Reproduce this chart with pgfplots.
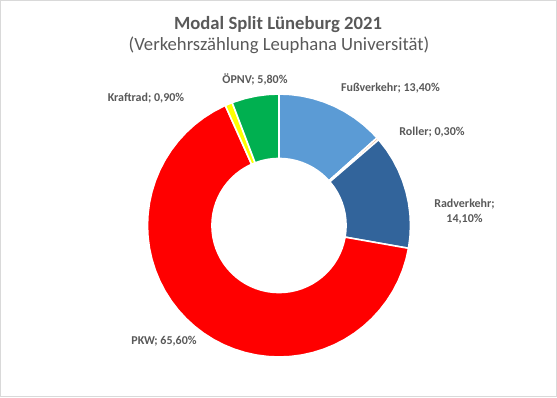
\documentclass[border=0pt]{standalone}
\usepackage{pgfplots}
\pgfplotsset{compat=1.18}
\usepgfplotslibrary{polar}
\usepackage{fontspec}
\setmainfont{Carlito}
\definecolor{txt}{HTML}{595959}
\definecolor{fuss}{HTML}{5B9BD5}
\definecolor{roller}{HTML}{F4B183}
\definecolor{rad}{RGB}{50,100,155}
\definecolor{pkw}{HTML}{FF0000}
\definecolor{krad}{HTML}{FFFF00}
\definecolor{oepnv}{HTML}{00B050}
\definecolor{frame}{HTML}{D9D9D9}
% Shares (percent): Fussverkehr 13.40, Roller 0.30, Radverkehr 14.10,
% PKW 65.60, Kraftrad 0.90, OePNV 5.80 (sum 100.10), clockwise from the top.
% Wedge boundaries (degrees, counter-clockwise from east):
% 90, 41.81, 40.73, -9.98, -245.90, -249.14, -270
\begin{document}
\begin{tikzpicture}[x=0.75pt,y=0.75pt]
\draw[frame, line width=0.75pt] (0.5,0.5) rectangle (556.5,396.5);
\begin{polaraxis}[
  at={(209.25pt,128.625pt)}, anchor=center,
  hide axis, scale only axis,
  width=197.25pt, height=197.25pt,
  xmin=0, xmax=360, ymin=0, ymax=1,
  clip=false,
]
% Fussverkehr 13.40
\addplot[fill=fuss, draw=white, line width=1.2pt] coordinates {
 (90,1) (85,1) (80,1) (75,1) (70,1) (65,1) (60,1) (55,1) (50,1) (45,1) (41.81,1)
 (41.81,0.51) (45,0.51) (50,0.51) (55,0.51) (60,0.51) (65,0.51) (70,0.51) (75,0.51) (80,0.51) (85,0.51) (90,0.51)
} -- cycle;
% Roller 0.30
\addplot[fill=roller, draw=white, line width=1.2pt] coordinates {
 (41.81,1) (41.27,1) (40.73,1) (40.73,0.51) (41.81,0.51)
} -- cycle;
% Radverkehr 14.10
\addplot[fill=rad, draw=white, line width=1.2pt] coordinates {
 (40.73,1) (35,1) (30,1) (25,1) (20,1) (15,1) (10,1) (5,1) (0,1) (-5,1) (-9.98,1)
 (-9.98,0.51) (-5,0.51) (0,0.51) (5,0.51) (10,0.51) (15,0.51) (20,0.51) (25,0.51) (30,0.51) (35,0.51) (40.73,0.51)
} -- cycle;
% PKW 65.60
\addplot[fill=pkw, draw=white, line width=1.2pt] coordinates {
 (-9.98,1) (-15,1) (-20,1) (-25,1) (-30,1) (-35,1) (-40,1) (-45,1) (-50,1) (-55,1)
 (-60,1) (-65,1) (-70,1) (-75,1) (-80,1) (-85,1) (-90,1) (-95,1) (-100,1) (-105,1)
 (-110,1) (-115,1) (-120,1) (-125,1) (-130,1) (-135,1) (-140,1) (-145,1) (-150,1) (-155,1)
 (-160,1) (-165,1) (-170,1) (-175,1) (-180,1) (-185,1) (-190,1) (-195,1) (-200,1) (-205,1)
 (-210,1) (-215,1) (-220,1) (-225,1) (-230,1) (-235,1) (-240,1) (-245,1) (-245.90,1)
 (-245.90,0.51) (-240,0.51) (-235,0.51) (-230,0.51) (-225,0.51) (-220,0.51) (-215,0.51) (-210,0.51)
 (-205,0.51) (-200,0.51) (-195,0.51) (-190,0.51) (-185,0.51) (-180,0.51) (-175,0.51) (-170,0.51)
 (-165,0.51) (-160,0.51) (-155,0.51) (-150,0.51) (-145,0.51) (-140,0.51) (-135,0.51) (-130,0.51)
 (-125,0.51) (-120,0.51) (-115,0.51) (-110,0.51) (-105,0.51) (-100,0.51) (-95,0.51) (-90,0.51)
 (-85,0.51) (-80,0.51) (-75,0.51) (-70,0.51) (-65,0.51) (-60,0.51) (-55,0.51) (-50,0.51)
 (-45,0.51) (-40,0.51) (-35,0.51) (-30,0.51) (-25,0.51) (-20,0.51) (-15,0.51) (-9.98,0.51)
} -- cycle;
% Kraftrad 0.90
\addplot[fill=krad, draw=white, line width=1.2pt] coordinates {
 (-245.90,1) (-247.5,1) (-249.14,1) (-249.14,0.51) (-247.5,0.51) (-245.90,0.51)
} -- cycle;
% OePNV 5.80
\addplot[fill=oepnv, draw=white, line width=1.2pt] coordinates {
 (-249.14,1) (-250,1) (-255,1) (-260,1) (-265,1) (-270,1)
 (-270,0.51) (-265,0.51) (-260,0.51) (-255,0.51) (-250,0.51) (-249.14,0.51)
} -- cycle;
\end{polaraxis}
% titles
\node[anchor=base, text=txt, font=\fontsize{14}{16}\selectfont\bfseries, inner sep=0] at (278,367) {Modal Split Lüneburg 2021};
\node[anchor=base, text=txt, font=\fontsize{14}{16}\selectfont, inner sep=0] at (279,346) {(Verkehrszählung Leuphana Universität)};
% data labels
\tikzset{lab/.style={anchor=base, text=txt, font=\fontsize{9}{11}\selectfont\bfseries, inner sep=0}}
\node[lab] at (390.5,305) {Fußverkehr; 13,40\%};
\node[lab] at (432,261.3) {Roller; 0,30\%};
\node[lab] at (464.5,190) {Radverkehr;};
\node[lab] at (464.5,175) {14,10\%};
\node[lab] at (164,53) {PKW; 65,60\%};
\node[lab] at (146,295) {Kraftrad; 0,90\%};
\node[lab] at (255,313) {ÖPNV; 5,80\%};
\end{tikzpicture}
\end{document}
